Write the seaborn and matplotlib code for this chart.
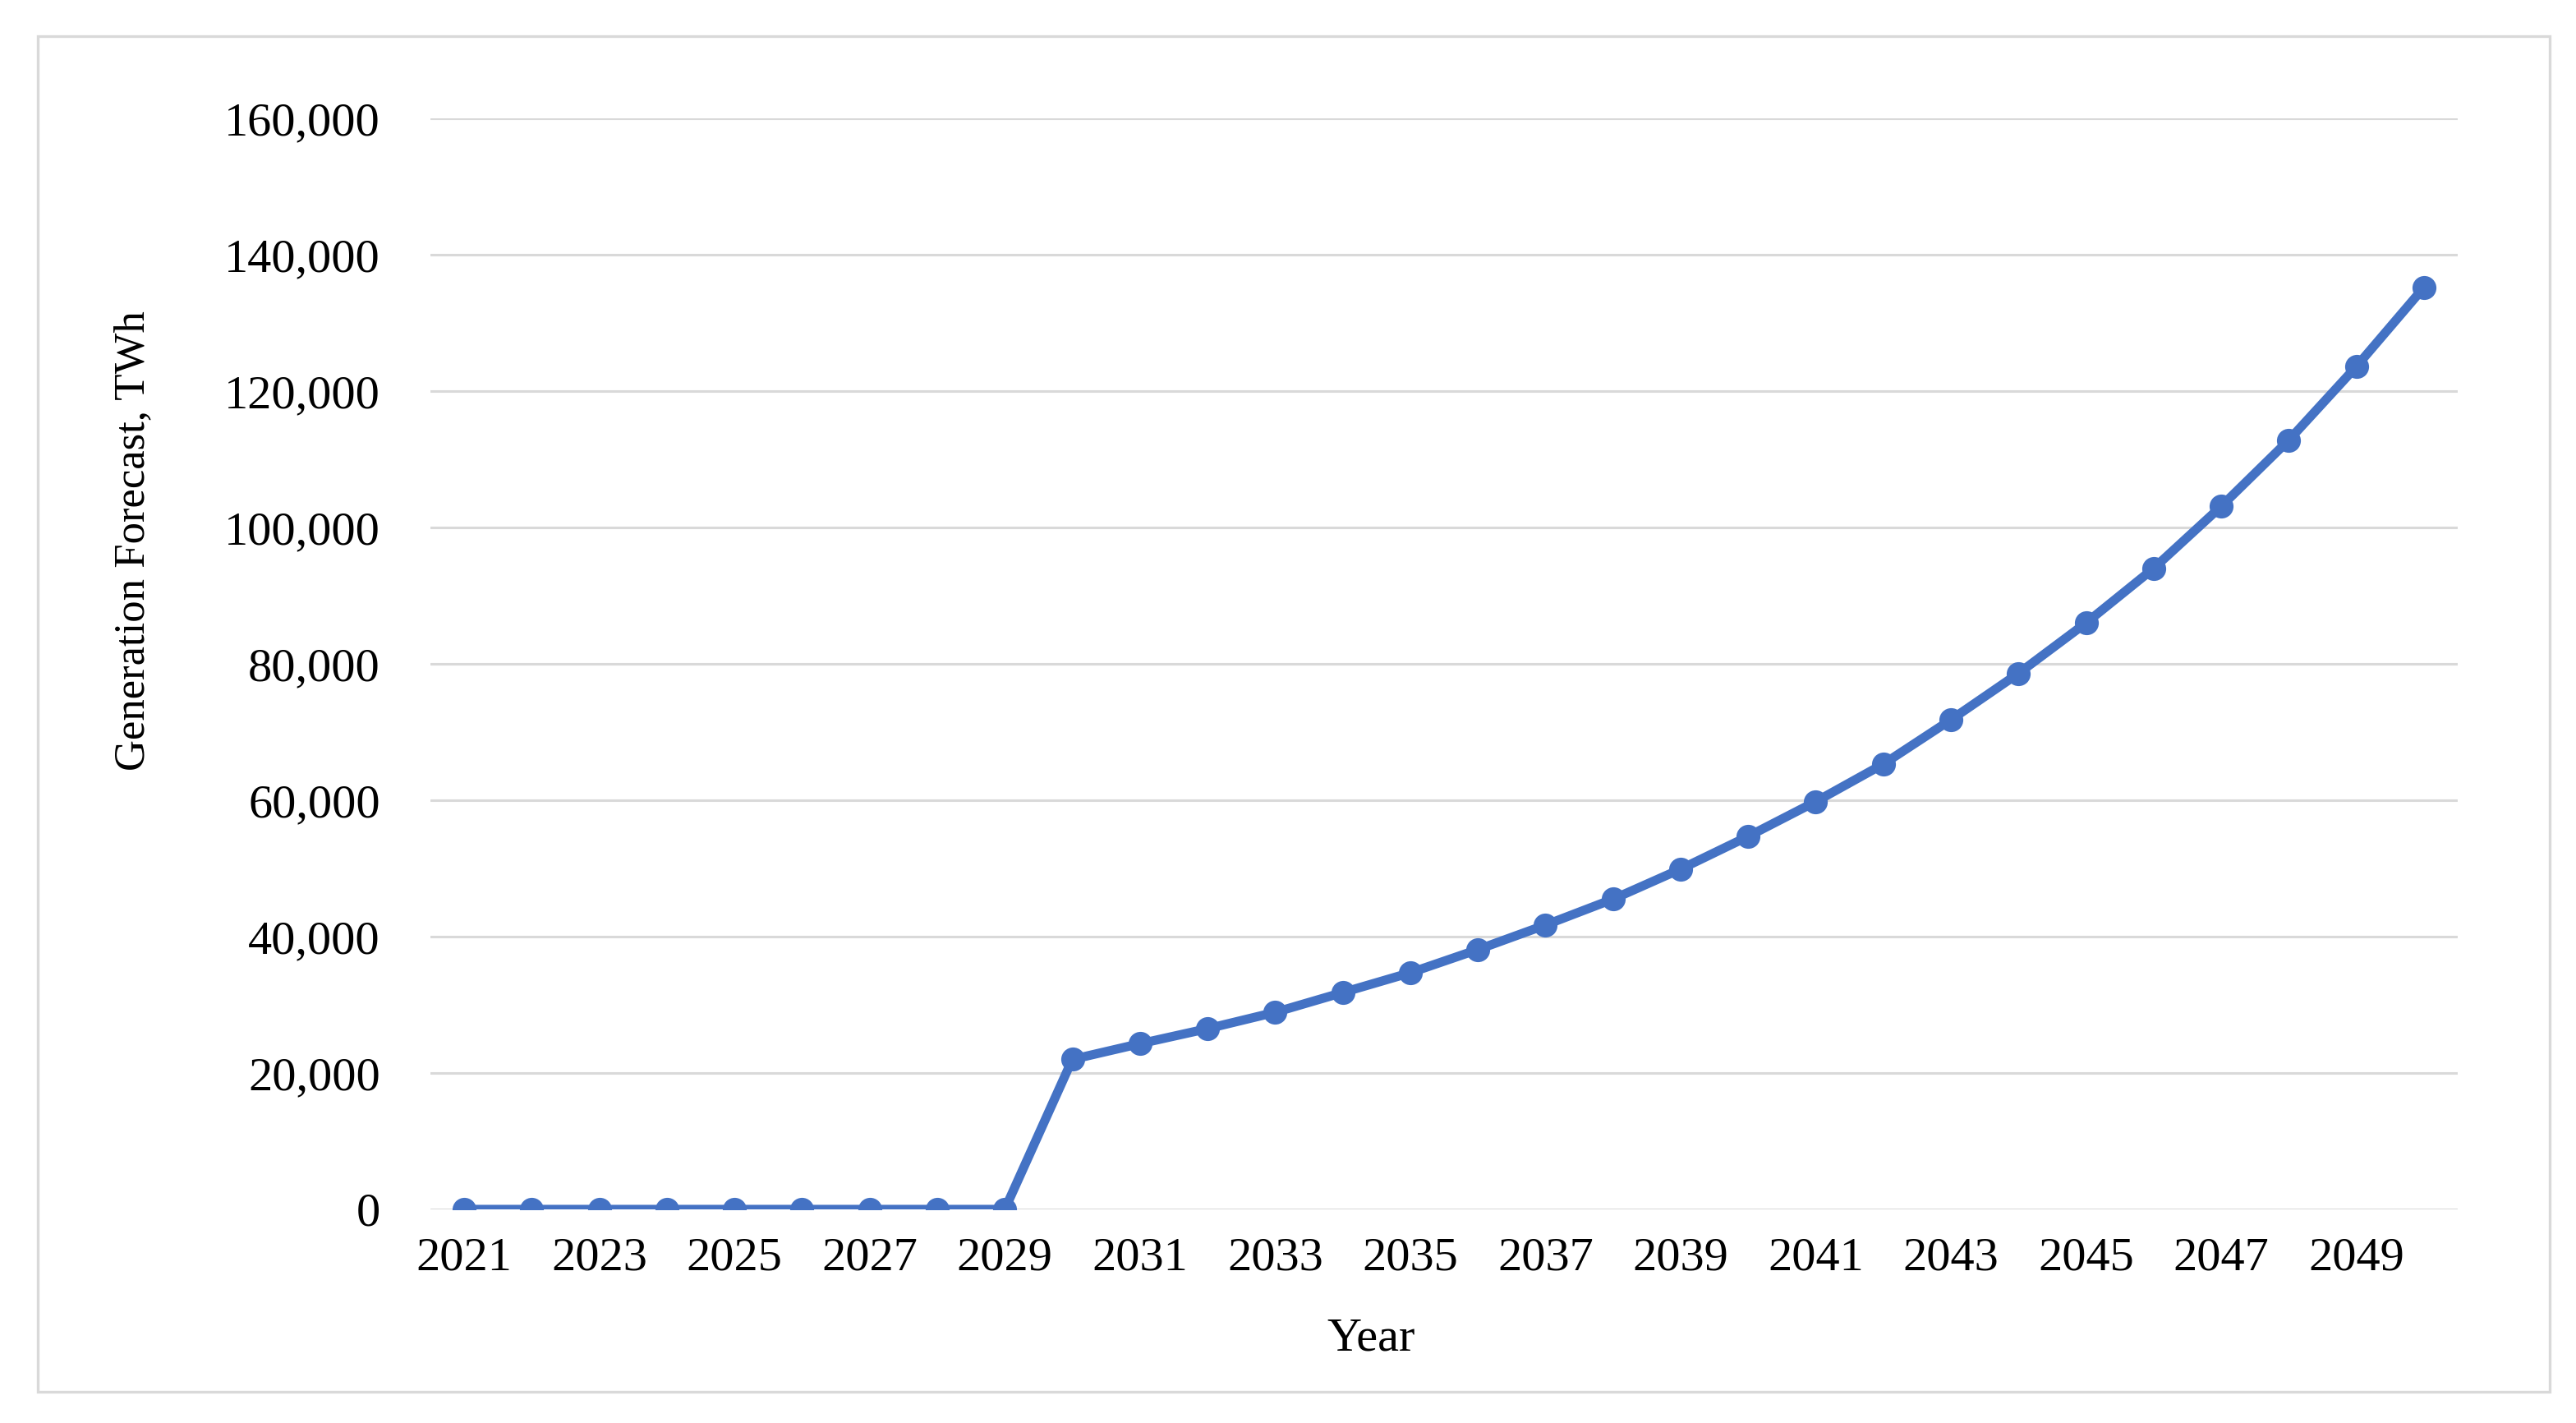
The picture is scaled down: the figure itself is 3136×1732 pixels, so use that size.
import numpy as np
import pandas as pd
import matplotlib.pyplot as plt
import seaborn as sns
from matplotlib.patches import Rectangle

years = list(range(2021, 2051))
generation = [0, 0, 0, 0, 0, 0, 0, 0, 0,
              22000, 24300, 26500, 28900, 31800, 34700, 38100, 41700, 45500, 49900, 54700,
              59800, 65300, 71800, 78600, 86000, 94000, 103100, 112800, 123600, 135200]
y_ticks = [0, 20000, 40000, 60000, 80000, 100000, 120000, 140000, 160000]

df = pd.DataFrame({'Year': years, 'Generation': generation})

sns.set_theme(style='whitegrid')
plt.rcParams['font.family'] = ['Liberation Serif', 'DejaVu Serif']

fig = plt.figure(figsize=(15.68, 8.66), dpi=200)
ax = fig.add_axes([524 / 3136, 1 - 1472 / 1732, 2468 / 3136, 1328 / 1732])

sns.lineplot(data=df, x='Year', y='Generation', ax=ax, color='#4472C4',
             linewidth=4.0, marker='o', markersize=10.5, markeredgewidth=0)

ax.set_xlim(2020.5, 2050.5)
ax.set_ylim(0, 160000)
ax.set_yticks(y_ticks)
ax.set_yticklabels([f'{v:,}' for v in y_ticks])
ax.set_xticks(years[::2])
ax.set_xticklabels([str(y) for y in years[::2]])

ax.grid(axis='x', visible=False)
ax.grid(axis='y', color='#D9D9D9', linewidth=1.1)
for s in ax.spines.values():
    s.set_visible(False)
ax.tick_params(axis='y', length=0, pad=22, labelsize=21, labelcolor='black')
ax.tick_params(axis='x', length=0, pad=12, labelsize=21, labelcolor='black')

ax.set_xlabel('Year', fontsize=21, color='black')
ax.set_ylabel('Generation Forecast, TWh', fontsize=19, color='black')
ax.xaxis.set_label_coords(0.464, -0.099)
ax.yaxis.set_label_coords(-0.137, 0.613)

# outer chart frame
fig.patches.append(Rectangle((46 / 3136, 1 - 1694 / 1732), (3104 - 46) / 3136, (1694 - 44) / 1732,
                             transform=fig.transFigure, fill=False, edgecolor='#D9D9D9', linewidth=1.2))

fig.savefig('out.png', dpi=200, facecolor='white')
